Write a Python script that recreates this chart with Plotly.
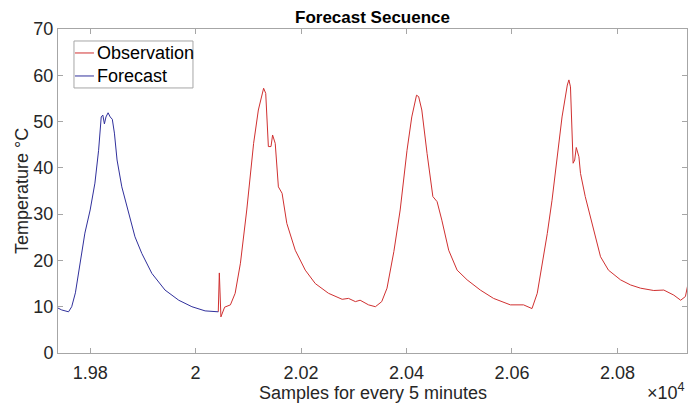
import plotly.graph_objects as go

# samples (x) and temperature (y)
forecast_x = [19734, 19746, 19759, 19765, 19772, 19781, 19790, 19800, 19809, 19816,
              19821, 19824, 19827, 19830, 19834, 19838, 19842, 19846, 19851, 19860,
              19873, 19885, 19898, 19917, 19942, 19968, 19993, 20018, 20043]
forecast_y = [10.0, 9.3, 8.9, 10.0, 13.0, 20.0, 25.9, 30.9, 36.7, 43.8,
              51.0, 51.4, 49.5, 51.0, 51.9, 51.0, 50.5, 47.5, 41.7, 35.9,
              30.2, 25.1, 21.5, 17.2, 13.6, 11.4, 10.0, 9.1, 8.9]

obs_x = [20043, 20045, 20048, 20055, 20066, 20075, 20085, 20097, 20110, 20119,
         20129, 20133, 20138, 20143, 20146, 20151, 20157, 20164, 20173, 20189,
         20208, 20227, 20252, 20278, 20290, 20303, 20312, 20328, 20341, 20353,
         20363, 20376, 20388, 20401, 20410, 20419, 20423, 20429, 20439, 20450,
         20458, 20467, 20480, 20496, 20515, 20540, 20565, 20597, 20622, 20638,
         20648, 20657, 20667, 20676, 20686, 20695, 20705, 20708, 20711, 20714,
         20716, 20719, 20722, 20727, 20730, 20739, 20752, 20768, 20783, 20806,
         20825, 20844, 20869, 20888, 20907, 20920, 20929, 20934]
obs_y = [8.9, 17.3, 7.8, 9.9, 10.4, 12.9, 19.4, 30.9, 45.3, 52.5,
         57.2, 56.1, 44.6, 44.6, 47.1, 45.3, 35.9, 34.5, 28.0, 22.2,
         17.9, 15.0, 12.9, 11.6, 11.8, 11.1, 11.4, 10.4, 10.0, 11.1,
         14.0, 21.9, 30.9, 43.8, 51.0, 55.7, 55.4, 52.5, 43.1, 33.8,
         32.7, 28.7, 22.2, 17.9, 15.8, 13.6, 11.8, 10.4, 10.4, 9.6,
         12.9, 18.6, 25.8, 33.0, 42.4, 51.0, 57.9, 59.0, 57.5, 48.9,
         41.0, 41.7, 44.4, 42.4, 38.8, 33.8, 28.0, 20.8, 17.9, 15.8,
         14.7, 14.0, 13.5, 13.6, 12.5, 11.4, 12.2, 15.0]

x_tickvals = [19800, 20000, 20200, 20400, 20600, 20800]
x_ticktext = ['1.98', '2', '2.02', '2.04', '2.06', '2.08']
y_tickvals = [0, 10, 20, 30, 40, 50, 60, 70]

series_names = ['Observation', 'Forecast']
series_colors = ['#d03030', '#30309c']

font_family = 'Arial, Liberation Sans, Helvetica, sans-serif'
axis_grey = '#a6a6a6'
text_dark = '#262626'

fig = go.Figure()
fig.add_trace(go.Scatter(
    x=obs_x, y=obs_y,
    mode='lines',
    name=series_names[0],
    line=dict(color=series_colors[0], width=1),
))
fig.add_trace(go.Scatter(
    x=forecast_x, y=forecast_y,
    mode='lines',
    name=series_names[1],
    line=dict(color=series_colors[1], width=1),
))

fig.update_layout(
    width=688,
    height=405,
    margin=dict(l=58, r=1, t=29, b=52),
    paper_bgcolor='white',
    plot_bgcolor='white',
    font=dict(family=font_family, size=18, color=text_dark),
    title=dict(
        text='<b>Forecast Secuence</b>',
        x=0.5, xref='paper', xanchor='center',
        y=1, yref='paper', yanchor='bottom', pad=dict(b=6),
        font=dict(size=17, color='black'),
    ),
    xaxis=dict(
        range=[19739, 20932],
        tickvals=x_tickvals,
        ticktext=x_ticktext,
        ticks='inside',
        ticklen=5,
        tickcolor=axis_grey,
        ticklabelstandoff=3,
        showline=True,
        linecolor=axis_grey,
        linewidth=1,
        mirror='ticks',
        showgrid=False,
        zeroline=False,
    ),
    yaxis=dict(
        range=[0, 70],
        tickvals=y_tickvals,
        ticks='inside',
        ticklen=5,
        tickcolor=axis_grey,
        showline=True,
        linecolor=axis_grey,
        linewidth=1,
        mirror='ticks',
        showgrid=False,
        zeroline=False,
    ),
    showlegend=False,
)

# axis titles, placed like the MATLAB original
fig.add_annotation(
    text='Samples for every 5 minutes',
    xref='paper', yref='paper', x=0.5, y=0,
    xanchor='center', yanchor='middle', yshift=-40,
    showarrow=False, font=dict(size=18, color=text_dark),
)
fig.add_annotation(
    text='Temperature °C',
    xref='paper', yref='paper', x=0, y=0.5,
    xanchor='center', yanchor='middle', xshift=-36,
    textangle=-90,
    showarrow=False, font=dict(size=18, color=text_dark),
)
fig.add_annotation(
    text='×10<sup>4</sup>',
    xref='paper', yref='paper',
    x=1, y=0,
    xanchor='right', yanchor='top',
    yshift=-25,
    showarrow=False,
    font=dict(size=18, color=text_dark),
)

# compact MATLAB-style legend box
fig.add_shape(
    type='rect', xref='paper', yref='paper',
    x0=0.0254, x1=0.2146, y0=0.818, y1=0.963,
    line=dict(color=axis_grey, width=1), fillcolor='white', layer='above',
)
for name, color, ly in zip(series_names, series_colors, [0.926, 0.855]):
    fig.add_shape(
        type='line', xref='paper', yref='paper',
        x0=0.027, x1=0.0572, y0=ly, y1=ly,
        line=dict(color=color, width=1), layer='above',
    )
    fig.add_annotation(
        text=name, xref='paper', yref='paper',
        x=0.0588, y=ly, xanchor='left', yanchor='middle',
        showarrow=False, font=dict(size=18, color='black'),
    )

fig.write_html('out.html', config={'displayModeBar': False},
               post_script="document.body.style.margin='0';")
